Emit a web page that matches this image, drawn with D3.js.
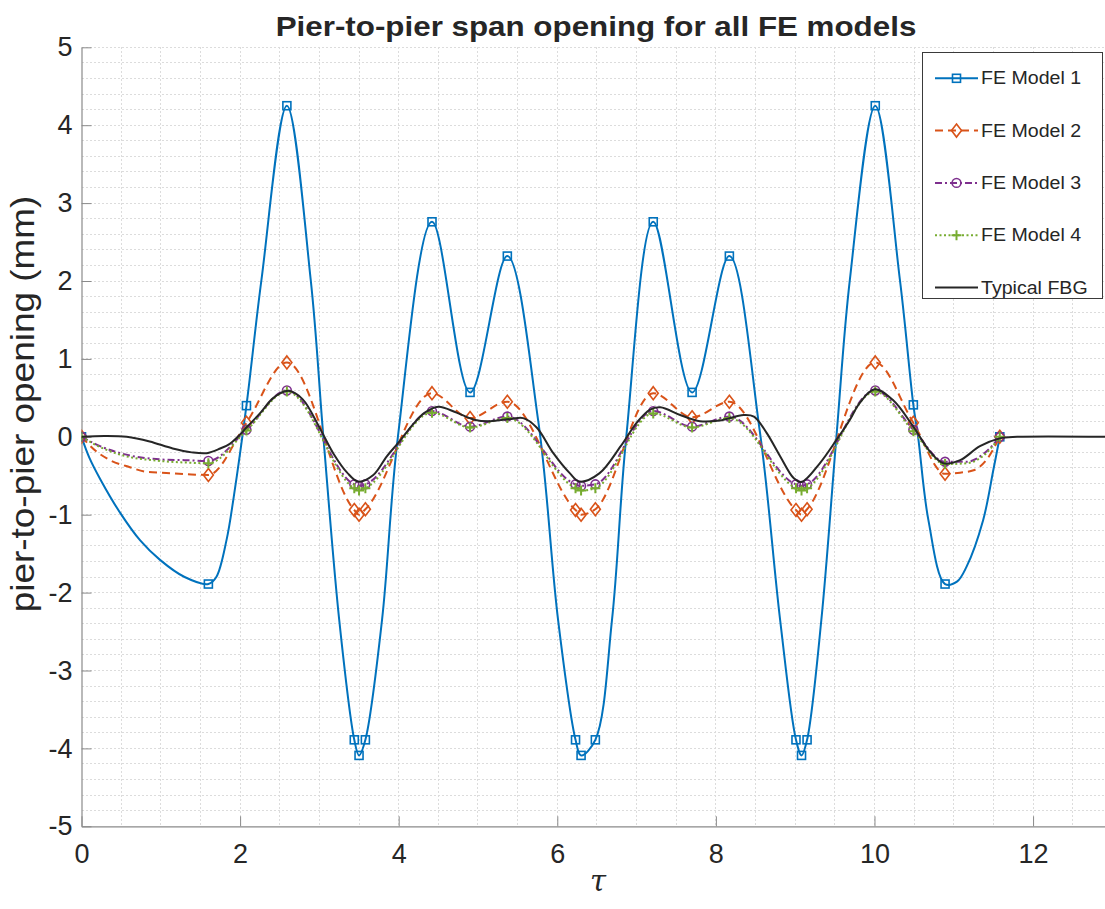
<!DOCTYPE html>
<html>
<head>
<meta charset="utf-8">
<script src="https://cdn.jsdelivr.net/npm/d3@7"></script>
<style>
  body { margin: 0; background: #ffffff; }
  svg { display: block; }
  text { font-family: "Liberation Sans", Arial, Helvetica, sans-serif; fill: #262626; }
</style>
</head>
<body>
<svg id="chart" width="1105" height="909"></svg>
<script>
// ---------------- data ----------------
// tau positions of the marked FE output stations (shared by all four models)
const markerTau = [0, 1.60, 2.08, 2.59, 3.44, 3.50, 3.58, 4.42, 4.90, 5.37, 6.23, 6.30, 6.48,
                   7.21, 7.70, 8.17, 9.01, 9.08, 9.15, 10.01, 10.49, 10.89, 11.58];

// span opening (mm) of each model at the marked stations
const fe1AtMarkers = [0, -1.89, 0.40, 4.25, -3.89, -4.09, -3.89, 2.76, 0.57, 2.32, -3.89, -4.09, -3.89,
                      2.76, 0.57, 2.32, -3.89, -4.09, -3.89, 4.25, 0.41, -1.89, 0];
const fe2AtMarkers = [0, -0.49, 0.18, 0.955, -0.94, -1.00, -0.93, 0.56, 0.24, 0.45, -0.94, -1.00, -0.93,
                      0.56, 0.25, 0.45, -0.94, -1.00, -0.93, 0.955, 0.18, -0.475, 0];
const fe3AtMarkers = [0, -0.31, 0.09, 0.595, -0.61, -0.63, -0.61, 0.33, 0.13, 0.26, -0.61, -0.63, -0.61,
                      0.33, 0.13, 0.26, -0.61, -0.63, -0.61, 0.595, 0.09, -0.32, 0];
const fe4AtMarkers = [0, -0.34, 0.08, 0.58, -0.66, -0.69, -0.66, 0.31, 0.12, 0.24, -0.66, -0.69, -0.66,
                      0.30, 0.12, 0.24, -0.66, -0.69, -0.66, 0.58, 0.07, -0.35, 0];

// intermediate (unmarked) samples of each model's response
const fe1ExtraTau = [0.10, 0.24, 0.49, 0.74, 0.99, 1.30, 1.70, 1.83, 1.92,
                     2.27, 2.89, 3.05, 3.25,
                     3.79, 3.99, 5.76, 6.01,
                     6.69, 6.87, 8.55, 8.81,
                     9.33, 9.52, 9.69, 10.32, 10.55, 10.68,
                     11.04, 11.16, 11.37, 11.50];
const fe1Extra = [-0.27, -0.55, -0.98, -1.33, -1.58, -1.80, -1.80, -1.32, -0.77,
                  2.02, 2.02, 0.00, -2.35,
                  -2.35, 0.00, 0.20, -2.35,
                  -2.35, 0.00, 0.10, -2.35,
                  -2.35, 0.00, 2.02, 2.02, 0.00, -1.07,
                  -1.86, -1.67, -1.07, -0.42];

const fe2ExtraTau = [0.19, 0.36, 0.61, 0.82, 1.07, 1.33, 11.08, 11.25, 11.41];
const fe2Extra    = [-0.19, -0.30, -0.39, -0.45, -0.465, -0.48, -0.46, -0.43, -0.30];
const fe3ExtraTau = [0.19, 0.49, 0.99, 1.30, 11.16, 11.41];
const fe3Extra    = [-0.10, -0.21, -0.29, -0.30, -0.32, -0.19];
const fe4ExtraTau = [0.19, 0.49, 0.99, 1.30, 11.16, 11.41];
const fe4Extra    = [-0.11, -0.23, -0.31, -0.33, -0.34, -0.21];

// measured FBG response
const fbgTau = [0, 0.29, 0.57, 0.86, 1.15, 1.39, 1.58, 1.75, 1.87, 2.00, 2.08, 2.25, 2.42, 2.61, 2.79,
                3.00, 3.18, 3.35, 3.49, 3.68, 3.85, 4.01, 4.18, 4.33, 4.50, 4.73, 4.95, 5.15, 5.42,
                5.57, 5.74, 5.95, 6.16, 6.28, 6.53, 6.80, 7.00, 7.17, 7.30, 7.55, 7.80, 8.05, 8.35,
                8.48, 8.64, 8.81, 8.98, 9.08, 9.31, 9.52, 9.69, 9.81, 10.00, 10.23, 10.49, 10.70,
                10.87, 11.08, 11.33, 11.58, 11.80, 12.907];
const fbgValue = [0, 0.01, 0.00, -0.06, -0.15, -0.20, -0.21, -0.15, -0.09, 0.03, 0.12, 0.30, 0.50, 0.59, 0.48,
                  0.12, -0.22, -0.46, -0.575, -0.49, -0.25, -0.06, 0.16, 0.31, 0.385, 0.31, 0.22, 0.20, 0.23,
                  0.24, 0.12, -0.21, -0.47, -0.575, -0.47, -0.12, 0.18, 0.35, 0.38, 0.28, 0.20, 0.21, 0.28,
                  0.26, 0.05, -0.25, -0.53, -0.58, -0.34, -0.04, 0.22, 0.43, 0.61, 0.475, 0.13, -0.19,
                  -0.34, -0.30, -0.12, -0.02, 0.00, 0.00];

const seriesNames = ["FE Model 1", "FE Model 2", "FE Model 3", "FE Model 4", "Typical FBG"];
const xTicks = [0, 2, 4, 6, 8, 10, 12];
const yTicks = [-5, -4, -3, -2, -1, 0, 1, 2, 3, 4, 5];
const xLimits = [0, 12.907];
const yLimits = [-5, 5];

// ---------------- layout ----------------
const svg = d3.select("#chart");
const plotLeft = 81.5, plotRight = 1105, plotTop = 47.3, plotBottom = 826.3;
const x = d3.scaleLinear().domain(xLimits).range([plotLeft, plotRight]);
const y = d3.scaleLinear().domain(yLimits).range([plotBottom, plotTop]);
const textColor = "#262626";
const axisColor = "#8a8a8a";

svg.append("rect").attr("width", 1105).attr("height", 909).attr("fill", "#ffffff");

svg.append("defs").append("clipPath").attr("id", "plotClip")
  .append("rect").attr("x", plotLeft).attr("y", plotTop - 8)
  .attr("width", plotRight - plotLeft).attr("height", plotBottom - plotTop + 16);

// dotted grid (0.5 in tau, 0.2 mm in opening)
const grid = svg.append("g").attr("stroke", "#dcdcdc").attr("stroke-width", 1)
  .attr("stroke-dasharray", "2,2").attr("shape-rendering", "crispEdges");
d3.range(1, 26).map(i => i * 0.5).filter(v => v <= xLimits[1]).forEach(v => {
  grid.append("line").attr("x1", x(v)).attr("x2", x(v)).attr("y1", plotTop).attr("y2", plotBottom);
});
d3.range(-24, 26).map(i => i * 0.2).forEach(v => {
  grid.append("line").attr("x1", plotLeft).attr("x2", plotRight).attr("y1", y(v)).attr("y2", y(v));
});

// axes with inward ticks
const yAxis = d3.axisLeft(y).tickValues(yTicks).tickFormat(d => String(d))
  .tickSizeInner(-10).tickSizeOuter(0).tickPadding(9);
const xAxis = d3.axisBottom(x).tickValues(xTicks).tickFormat(d => String(d))
  .tickSizeInner(-10).tickSizeOuter(0).tickPadding(18);

const gy = svg.append("g").attr("transform", `translate(${plotLeft},0)`).call(yAxis);
const gx = svg.append("g").attr("transform", `translate(0,${plotBottom})`).call(xAxis);
[gx, gy].forEach(g => {
  g.select(".domain").attr("stroke", axisColor).attr("stroke-width", 1.2);
  g.selectAll(".tick line").attr("stroke", axisColor).attr("stroke-width", 1);
  g.selectAll(".tick text").attr("fill", textColor)
    .style("font-family", '"Liberation Sans", Arial, sans-serif').style("font-size", "27px");
});

// ---------------- series ----------------
function buildPoints(markVals, extraTau, extraVals) {
  const pts = markerTau.map((t, i) => ({ t, v: markVals[i], mark: true }));
  extraTau.forEach((t, i) => pts.push({ t, v: extraVals[i], mark: false }));
  return pts.sort((a, b) => a.t - b.t);
}

const styles = [
  { color: "#0072BD", dash: null,       marker: "square"  },
  { color: "#D95319", dash: "8,5",      marker: "diamond" },
  { color: "#7E2F8E", dash: "7,3,2,3",  marker: "circle"  },
  { color: "#77AC30", dash: "2,2.5",    marker: "plus"    },
  { color: "#262626", dash: null,       marker: null      }
];

const feSeries = [
  buildPoints(fe1AtMarkers, fe1ExtraTau, fe1Extra),
  buildPoints(fe2AtMarkers, fe2ExtraTau, fe2Extra),
  buildPoints(fe3AtMarkers, fe3ExtraTau, fe3Extra),
  buildPoints(fe4AtMarkers, fe4ExtraTau, fe4Extra)
];
const fbgPoints = fbgTau.map((t, i) => ({ t, v: fbgValue[i] }));

function drawMarker(sel, type, cx, cy, color) {
  const g = sel.append("g").attr("fill", "none").attr("stroke", color).attr("stroke-width", 1.6);
  if (type === "square") {
    g.append("rect").attr("x", cx - 4).attr("y", cy - 4).attr("width", 8).attr("height", 8);
  } else if (type === "diamond") {
    g.append("path").attr("d", `M${cx},${cy - 6.5}L${cx + 5},${cy}L${cx},${cy + 6.5}L${cx - 5},${cy}Z`);
  } else if (type === "circle") {
    g.append("circle").attr("cx", cx).attr("cy", cy).attr("r", 4.4);
  } else if (type === "plus") {
    g.append("path").attr("d", `M${cx - 5},${cy}H${cx + 5}M${cx},${cy - 5}V${cy + 5}`).attr("stroke-width", 2);
  }
}

const plot = svg.append("g").attr("clip-path", "url(#plotClip)");
const smoothLine = d3.line().x(d => x(d.t)).y(d => y(d.v)).curve(d3.curveCatmullRom.alpha(0.5));
const monoLine = d3.line().x(d => x(d.t)).y(d => y(d.v)).curve(d3.curveMonotoneX);

feSeries.forEach((pts, i) => {
  const st = styles[i];
  plot.append("path").datum(pts).attr("d", i === 0 ? smoothLine : monoLine)
    .attr("fill", "none").attr("stroke", st.color).attr("stroke-width", 2)
    .attr("stroke-dasharray", st.dash);
  const mg = plot.append("g");
  pts.filter(p => p.mark).forEach(p => drawMarker(mg, st.marker, x(p.t), y(p.v), st.color));
});
plot.append("path").datum(fbgPoints).attr("d", smoothLine)
  .attr("fill", "none").attr("stroke", styles[4].color).attr("stroke-width", 2);

// ---------------- legend ----------------
const legend = svg.append("g");
legend.append("rect").attr("x", 922.5).attr("y", 52.5).attr("width", 180).attr("height", 246)
  .attr("fill", "#ffffff").attr("stroke", "#3a3a3a").attr("stroke-width", 1);
seriesNames.forEach((name, i) => {
  const ly = 78.3 + i * 52.3;
  const st = styles[i];
  legend.append("line").attr("x1", 935).attr("x2", 978).attr("y1", ly).attr("y2", ly)
    .attr("stroke", st.color).attr("stroke-width", 2).attr("stroke-dasharray", st.dash);
  if (st.marker) drawMarker(legend, st.marker, 956.5, ly, st.color);
  legend.append("text").attr("transform", `translate(981,${ly}) scale(1.12,1)`)
    .attr("dy", "0.35em").style("font-size", "17.5px").text(name);
});

// ---------------- titles ----------------
svg.append("text").attr("transform", `translate(596,36) scale(1.14,1)`)
  .attr("text-anchor", "middle").style("font-size", "27.5px").style("font-weight", "bold")
  .text("Pier-to-pier span opening for all FE models");

svg.append("text").attr("transform", `translate(34,404) rotate(-90) scale(1.12,1)`)
  .attr("text-anchor", "middle").style("font-size", "33px")
  .text("pier-to-pier opening (mm)");

svg.append("text").attr("x", 598).attr("y", 891)
  .attr("text-anchor", "middle").style("font-size", "29px").style("font-style", "italic")
  .style("font-family", '"DejaVu Serif", "Liberation Serif", serif')
  .text("τ");
</script>
</body>
</html>
